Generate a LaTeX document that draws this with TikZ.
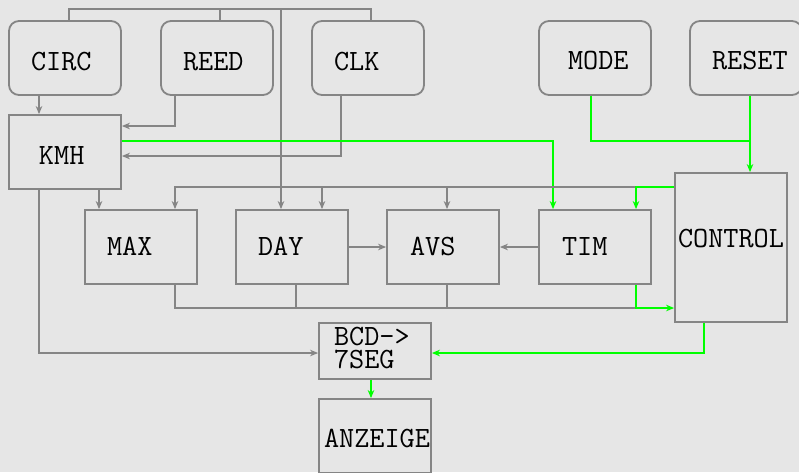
\documentclass[tikz,border=0pt]{standalone}
\usepackage{fontspec}
\usetikzlibrary{arrows.meta}
\definecolor{bgc}{HTML}{E6E6E6}
\definecolor{lgray}{HTML}{858585}
\definecolor{lgreen}{HTML}{00FF00}
\newcommand\tfont{\fontsize{29.4pt}{23pt}\selectfont\ttfamily}
\newcommand\ins[1]{\hspace*{#1pt}}
\begin{document}
\begin{tikzpicture}[x=1pt,y=-1pt,
  box/.style n args={3}{draw=lgray, line width=1.8pt, inner sep=0pt,
    minimum width=112pt, text width=112pt, align=left, font=\tfont,
    text height=#1pt, text depth=#2pt, minimum height=#3pt, text=black},
  rbox/.style={rounded corners=10pt},
  gline/.style={draw=lgray, line width=1.8pt},
  garrow/.style={gline, -{Stealth[length=8pt,width=6.5pt,inset=2.5pt]}},
  grline/.style={draw=lgreen, line width=1.8pt},
  grarrow/.style={grline, -{Stealth[length=8pt,width=6.5pt,inset=2.5pt]}}]
\useasboundingbox[fill=bgc] (0,0) rectangle (799,472);
% top row
\node[box={24}{0}{74}, rbox] (circ)  at (65,58)  {\ins{22}CIRC};
\node[box={24}{0}{74}, rbox] (reed)  at (217,58) {\ins{22}REED};
\node[box={24}{0}{74}, rbox] (clk)   at (368,58) {\ins{22}CLK};
\node[box={22}{0}{74}, rbox] (mode)  at (595,58) {\ins{29}MODE};
\node[box={22}{0}{74}, rbox] (reset) at (746,58) {\ins{22}RESET};
% middle
\node[box={24}{0}{74}] (kmh) at (65,152)  {\ins{30}KMH};
\node[box={16}{0}{74}] (max) at (141,247) {\ins{22}MAX};
\node[box={16}{0}{74}] (day) at (292,247) {\ins{22}DAY};
\node[box={16}{0}{74}] (avs) at (443,247) {\ins{23}AVS};
\node[box={16}{0}{74}] (tim) at (595,247) {\ins{23}TIM};
\node[box={0}{0}{149}] (control) at (731,247.5) {\ins{3}CONTROL};
% bottom
\node[box={11}{23}{56}] (bcd) at (375,351) {\ins{15}BCD->\\\ins{15}7SEG};
\node[box={22}{0}{74}] (anz) at (375,436) {\ins{5}ANZEIGE};
% top bus
\draw[gline] (circ.north -| 69,0) |- (371,9) -- (clk.north -| 371,0);
\draw[gline] (reed.north -| 220,0) -- (220,9);
\draw[garrow] (281,9) -- (day.north -| 281,0);
% into KMH
\draw[garrow] (circ.south -| 39,0) -- (kmh.north -| 39,0);
\draw[garrow] (reed.south -| 175,0) |- (kmh.east |- 0,126);
\draw[garrow] (clk.south -| 341,0) |- (kmh.east |- 0,156);
% KMH outputs
\draw[garrow] (kmh.south -| 99,0) -- (max.north -| 99,0);
\draw[garrow] (kmh.south -| 39,0) |- (bcd.west |- 0,353);
\draw[grarrow] (kmh.east |- 0,141) -| (tim.north -| 553,0);
% control bus
\draw[garrow] (control.west |- 0,187) -| (max.north -| 175,0);
\draw[garrow] (322,187) -- (day.north -| 322,0);
\draw[garrow] (447,187) -- (avs.north -| 447,0);
\draw[grarrow] (control.west |- 0,187) -| (tim.north -| 636,0);
% horizontal links
\draw[garrow] (day.east) -- (avs.west);
\draw[garrow] (tim.west) -- (avs.east);
% bottom bus
\draw[gline] (max.south -| 175,0) |- (636,308);
\draw[gline] (day.south -| 296,0) -- (296,308);
\draw[gline] (avs.south -| 447,0) -- (447,308);
\draw[grarrow] (tim.south -| 636,0) |- (control.west |- 0,308);
% mode / reset
\draw[grline] (mode.south -| 591,0) |- (750,141);
\draw[grarrow] (reset.south -| 750,0) -- (control.north -| 750,0);
% control to bcd, bcd to anzeige
\draw[grarrow] (control.south -| 704,0) |- (bcd.east |- 0,353);
\draw[grarrow] (bcd.south -| 371,0) -- (anz.north -| 371,0);
\end{tikzpicture}
\end{document}
